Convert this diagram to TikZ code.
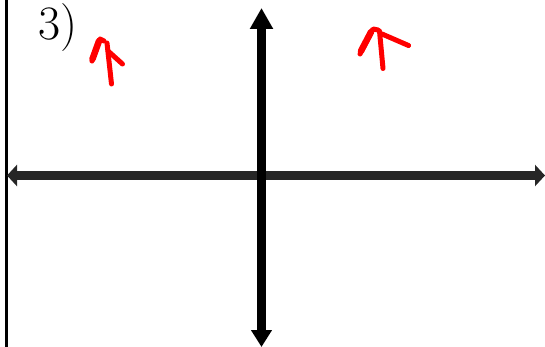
\documentclass[tikz,border=0pt]{standalone}
\usetikzlibrary{arrows.meta}
\definecolor{axisgray}{RGB}{38,38,38}
\definecolor{inkred}{RGB}{255,0,0}
\tikzset{
  axisline/.style={line width=9pt},
  redink/.style={draw=inkred, line width=5pt, line cap=round, line join=round},
}
\begin{document}
\begin{tikzpicture}[x=1pt,y=-1pt]
\useasboundingbox (0,0) rectangle (545,347);
% thin left border line
\coordinate (lt) at (6.5,0);
\coordinate (lb) at (6.5,347);
\draw[line width=2.5pt] (lt) -- (lb);
% horizontal axis
\coordinate (hl) at (7,175.5);
\coordinate (hr) at (545,175.5);
\draw[axisline, draw=axisgray, {Triangle[length=10pt,width=21pt]}-{Triangle[length=10pt,width=21pt]}] (hl) -- (hr);
% vertical axis
\coordinate (vt) at (261.5,8);
\coordinate (vb) at (261.5,347);
\draw[axisline, draw=black, {Triangle[length=21pt,width=22pt]}-{Triangle[length=17pt,width=20pt]}] (vt) -- (vb);
% label
\node[anchor=base west, inner sep=0pt, font=\fontsize{48}{52}\selectfont] (lbl) at (38.5,39.5) {3)};
% left red arrow
\draw[redink] (92,61) -- (100,39) -- (104,41);
\draw[redink] (107,43) -- (111.5,84);
\draw[redink] (108,51) -- (122.5,64);
\draw[redink, line width=6.5pt] (92.5,59) -- (99,41);
% right red arrow
\draw[redink] (360,54) -- (373,29) -- (378,30);
\draw[redink, line width=6.5pt] (361,51) -- (371,32);
\draw[redink] (379.5,31) -- (383,68.5);
\draw[redink] (382,34) -- (408.5,45.5);
\end{tikzpicture}
\end{document}
